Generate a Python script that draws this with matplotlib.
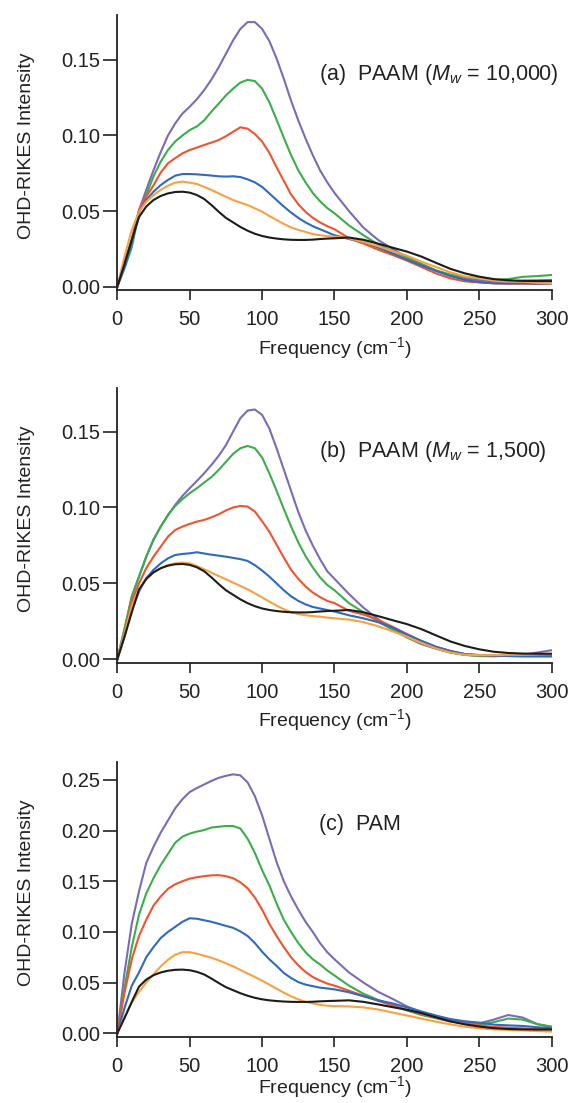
import matplotlib
matplotlib.use("Agg")
import matplotlib.pyplot as plt

plt.rcParams['font.family'] = ['Liberation Sans', 'DejaVu Sans']
plt.rcParams['mathtext.fontset'] = 'custom'
plt.rcParams['mathtext.rm'] = 'Liberation Sans'
plt.rcParams['mathtext.it'] = 'Liberation Sans:italic'
plt.rcParams['mathtext.bf'] = 'Liberation Sans:bold'

# frequency grid (cm-1)
freq = [0, 5, 10, 15, 20, 25, 30, 35, 40, 45, 50, 55, 60, 65, 70, 75, 80, 85, 90, 95,
        100, 105, 110, 115, 120, 125, 130, 135, 140, 145, 150, 160, 170, 180, 190, 200,
        210, 220, 230, 240, 250, 260, 270, 280, 290, 300]

# reference (black) trace, same in every panel
black = [0, 0.015, 0.031, 0.046, 0.053, 0.0573, 0.060, 0.0617, 0.0626, 0.0628, 0.0622, 0.0606,
         0.058, 0.054, 0.0496, 0.0455, 0.0425, 0.0395, 0.037, 0.035, 0.0335, 0.0325, 0.0318,
         0.0313, 0.031, 0.0309, 0.0309, 0.0311, 0.0315, 0.0318, 0.032, 0.0325, 0.031, 0.0285,
         0.0258, 0.0232, 0.0199, 0.0158, 0.0118, 0.0088, 0.0066, 0.005, 0.0042, 0.0038, 0.0037, 0.0037]

# (a) PAAM Mw 10,000
a_purple = [0, 0.016, 0.031, 0.0505, 0.064, 0.077, 0.089, 0.100, 0.108, 0.1145, 0.119, 0.124,
            0.130, 0.137, 0.145, 0.154, 0.163, 0.1705, 0.175, 0.175, 0.1705, 0.1625, 0.151,
            0.1375, 0.123, 0.110, 0.098, 0.087, 0.077, 0.069, 0.062, 0.050, 0.039, 0.031,
            0.025, 0.0195, 0.015, 0.0105, 0.0075, 0.0055, 0.0042, 0.0035, 0.0035, 0.004, 0.0042, 0.0045]
a_green = [0, 0.012, 0.026, 0.0485, 0.0606, 0.073, 0.0827, 0.0904, 0.096, 0.100, 0.1036, 0.106,
           0.110, 0.1158, 0.121, 0.1265, 0.131, 0.135, 0.1368, 0.136, 0.131, 0.122, 0.1105,
           0.0985, 0.087, 0.077, 0.069, 0.062, 0.0565, 0.052, 0.0485, 0.0405, 0.034, 0.028,
           0.0235, 0.0195, 0.015, 0.0108, 0.008, 0.0065, 0.0055, 0.0045, 0.005, 0.0065, 0.007, 0.0077]
a_red = [0, 0.014, 0.031, 0.0507, 0.0595, 0.067, 0.0755, 0.0816, 0.085, 0.0882, 0.0904, 0.092,
         0.0937, 0.0953, 0.097, 0.0995, 0.1025, 0.1054, 0.1045, 0.101, 0.096, 0.0885, 0.079,
         0.070, 0.061, 0.0545, 0.0495, 0.0455, 0.0425, 0.040, 0.038, 0.032, 0.0285, 0.0245,
         0.021, 0.0172, 0.013, 0.0088, 0.0055, 0.0035, 0.0028, 0.0022, 0.002, 0.002, 0.0018, 0.0018]
a_blue = [0, 0.013, 0.029, 0.0496, 0.0573, 0.0628, 0.0672, 0.0706, 0.0734, 0.0745, 0.0745, 0.0743,
          0.0739, 0.0735, 0.073, 0.0728, 0.073, 0.0725, 0.071, 0.069, 0.066, 0.0617, 0.0573,
          0.053, 0.049, 0.0455, 0.0425, 0.040, 0.038, 0.036, 0.034, 0.0315, 0.0295, 0.026,
          0.022, 0.018, 0.014, 0.0105, 0.007, 0.0045, 0.003, 0.0022, 0.002, 0.0022, 0.002, 0.002]
a_orange = [0, 0.020, 0.0375, 0.0496, 0.0562, 0.0606, 0.064, 0.0668, 0.0688, 0.0695, 0.0688, 0.0679,
            0.066, 0.064, 0.0617, 0.0595, 0.0573, 0.0556, 0.054, 0.0518, 0.0496, 0.0467, 0.0441,
            0.0415, 0.0392, 0.0375, 0.0362, 0.0348, 0.034, 0.0335, 0.033, 0.032, 0.0295, 0.0268,
            0.0235, 0.0205, 0.0165, 0.013, 0.0095, 0.0068, 0.0055, 0.004, 0.0035, 0.0033, 0.0025, 0.002]

# (b) PAAM Mw 1,500
b_purple = [0, 0.020, 0.0413, 0.0545, 0.0676, 0.0786, 0.0874, 0.095, 0.1017, 0.1076, 0.1127, 0.1175,
            0.1225, 0.128, 0.134, 0.141, 0.150, 0.1588, 0.1638, 0.1645, 0.161, 0.152, 0.139,
            0.125, 0.111, 0.097, 0.085, 0.075, 0.066, 0.058, 0.053, 0.043, 0.034, 0.0265,
            0.020, 0.0145, 0.010, 0.007, 0.0045, 0.003, 0.0022, 0.002, 0.0025, 0.003, 0.0045, 0.006]
b_green = [0, 0.020, 0.0413, 0.0545, 0.0676, 0.079, 0.0874, 0.095, 0.101, 0.1055, 0.1094, 0.1127,
           0.1164, 0.120, 0.1247, 0.130, 0.1353, 0.139, 0.1405, 0.139, 0.133, 0.1225, 0.111,
           0.099, 0.0875, 0.077, 0.068, 0.0605, 0.054, 0.049, 0.0455, 0.037, 0.031, 0.025,
           0.0195, 0.0145, 0.0105, 0.0072, 0.0045, 0.003, 0.0022, 0.0022, 0.0022, 0.0025, 0.0025, 0.0025]
b_red = [0, 0.017, 0.038, 0.050, 0.060, 0.0676, 0.0742, 0.0808, 0.0852, 0.0874, 0.0892, 0.0907,
         0.0918, 0.0935, 0.0955, 0.098, 0.100, 0.101, 0.1006, 0.0973, 0.091, 0.084, 0.0755,
         0.067, 0.059, 0.053, 0.048, 0.044, 0.041, 0.0385, 0.037, 0.032, 0.0295, 0.026,
         0.0215, 0.0167, 0.012, 0.0083, 0.0055, 0.0035, 0.0028, 0.0025, 0.0022, 0.002, 0.002, 0.002]
b_blue = [0, 0.015, 0.0325, 0.0446, 0.0534, 0.0589, 0.0632, 0.0665, 0.0687, 0.0694, 0.0698, 0.0705,
          0.0697, 0.0689, 0.0683, 0.0676, 0.0668, 0.066, 0.0648, 0.062, 0.0585, 0.0545, 0.050,
          0.0455, 0.0415, 0.0385, 0.0362, 0.0345, 0.0335, 0.0325, 0.0315, 0.029, 0.027, 0.0245,
          0.021, 0.0163, 0.0122, 0.0083, 0.0055, 0.0035, 0.0028, 0.0025, 0.0022, 0.002, 0.002, 0.002]
b_orange = [0, 0.017, 0.0347, 0.0457, 0.0527, 0.0571, 0.060, 0.0621, 0.0632, 0.0637, 0.0632, 0.0615,
            0.0593, 0.0571, 0.0549, 0.0527, 0.0505, 0.0483, 0.0461, 0.0435, 0.0408, 0.038, 0.0354,
            0.033, 0.031, 0.0299, 0.029, 0.0285, 0.0281, 0.0275, 0.027, 0.0262, 0.0245, 0.0218,
            0.0185, 0.0149, 0.0108, 0.0072, 0.0045, 0.003, 0.0028, 0.0028, 0.003, 0.003, 0.0032, 0.0035]

# (c) PAM
c_purple = [0, 0.060, 0.108, 0.140, 0.168, 0.184, 0.198, 0.210, 0.222, 0.231, 0.238, 0.242,
            0.2455, 0.249, 0.252, 0.254, 0.2555, 0.2545, 0.2475, 0.234, 0.215, 0.192, 0.169,
            0.150, 0.135, 0.122, 0.110, 0.100, 0.089, 0.080, 0.073, 0.060, 0.050, 0.041,
            0.034, 0.0265, 0.021, 0.017, 0.0135, 0.011, 0.0098, 0.0135, 0.018, 0.0155, 0.009, 0.006]
c_green = [0, 0.045, 0.085, 0.117, 0.138, 0.153, 0.166, 0.177, 0.188, 0.194, 0.197, 0.199,
           0.2005, 0.203, 0.2038, 0.2045, 0.2045, 0.202, 0.192, 0.178, 0.161, 0.146, 0.128,
           0.112, 0.100, 0.089, 0.080, 0.073, 0.068, 0.062, 0.057, 0.047, 0.039, 0.033,
           0.028, 0.0225, 0.018, 0.0148, 0.0115, 0.0095, 0.0082, 0.011, 0.0145, 0.0135, 0.009, 0.0066]
c_red = [0, 0.040, 0.073, 0.096, 0.112, 0.126, 0.135, 0.1425, 0.147, 0.150, 0.1525, 0.154,
         0.155, 0.1558, 0.156, 0.155, 0.153, 0.149, 0.143, 0.134, 0.122, 0.108, 0.096,
         0.085, 0.075, 0.067, 0.0605, 0.0555, 0.052, 0.049, 0.047, 0.042, 0.037, 0.032,
         0.0275, 0.023, 0.019, 0.0155, 0.012, 0.0095, 0.0078, 0.0062, 0.0055, 0.0048, 0.0042, 0.0039]
c_blue = [0, 0.025, 0.047, 0.060, 0.075, 0.085, 0.094, 0.100, 0.105, 0.110, 0.1135, 0.113,
          0.1115, 0.110, 0.108, 0.106, 0.104, 0.1005, 0.096, 0.089, 0.0805, 0.073, 0.0665,
          0.0595, 0.0545, 0.0505, 0.048, 0.0465, 0.045, 0.0442, 0.0433, 0.0405, 0.0365, 0.0325,
          0.0295, 0.0255, 0.0215, 0.0175, 0.014, 0.0118, 0.0105, 0.0085, 0.0078, 0.0072, 0.006, 0.0049]
c_orange = [0, 0.016, 0.030, 0.041, 0.050, 0.058, 0.066, 0.0725, 0.0775, 0.080, 0.080, 0.0785,
            0.0765, 0.0745, 0.072, 0.069, 0.066, 0.0625, 0.059, 0.0555, 0.052, 0.048, 0.044,
            0.040, 0.0365, 0.0335, 0.031, 0.0295, 0.028, 0.0272, 0.0268, 0.0265, 0.0255, 0.0235,
            0.0205, 0.0175, 0.0145, 0.0115, 0.0088, 0.0065, 0.0049, 0.0038, 0.0033, 0.0028, 0.0022, 0.0016]

colors = {'purple': '#7b6bb7', 'green': '#3cad4b', 'red': '#f0532e',
          'blue': '#2f69c2', 'orange': '#f9a040', 'black': '#1c1c1c'}

# label, traces, ylim, yticks, axes rect, label baseline (axes frac), xlabel pad
panels = [
    ("(a)  PAAM ($M_w$ = 10,000)", [a_purple, a_green, a_red, a_blue, a_orange, black],
     (-0.0022, 0.1797), [0.00, 0.05, 0.10, 0.15], [0.2054, 0.7371, 0.7608, 0.2493], 0.764, 4),
    ("(b)  PAAM ($M_w$ = 1,500)", [b_purple, b_green, b_red, b_blue, b_orange, black],
     (-0.0022, 0.1785), [0.00, 0.05, 0.10, 0.15], [0.2054, 0.3992, 0.7608, 0.2488], 0.749, 4),
    ("(c)  PAM", [c_purple, c_green, c_red, c_blue, c_orange, black],
     (-0.0034, 0.2676), [0.00, 0.05, 0.10, 0.15, 0.20, 0.25], [0.2054, 0.0601, 0.7608, 0.2490], 0.754, -1),
]

fig = plt.figure(figsize=(5.71, 11.03), dpi=100)

for label, series, ylim, yticks, pos, ty, xpad in panels:
    ax = fig.add_axes(pos)
    for vals, c in zip(series, ['purple', 'green', 'red', 'blue', 'orange', 'black']):
        ax.plot(freq, vals, color=colors[c], lw=1.5)
    ax.set_xlim(0, 300)
    ax.set_ylim(*ylim)
    ax.set_xticks([0, 50, 100, 150, 200, 250, 300])
    ax.set_yticks(yticks)
    ax.set_yticklabels([f"{t:.2f}" for t in yticks])
    for s in ['top', 'right']:
        ax.spines[s].set_visible(False)
    for s in ['left', 'bottom']:
        ax.spines[s].set_linewidth(1.3)
        ax.spines[s].set_color('#222222')
    ax.tick_params(axis='y', direction='out', length=10, width=1.2, pad=2, labelsize=14.5, colors='#222222')
    ax.tick_params(axis='x', direction='out', length=7.5, width=1.2, pad=7, labelsize=14.5, colors='#222222')
    ax.set_xlabel("Frequency (cm$^{-1}$)", fontsize=14, labelpad=xpad, color='#222222')
    ax.set_ylabel("OHD-RIKES Intensity", fontsize=14, color='#222222')
    ax.yaxis.set_label_coords(-0.19, 0.525)
    ax.text(0.464, ty, label, transform=ax.transAxes, fontsize=15.5, color='#222222', va='baseline')

fig.savefig("out.png", dpi=100)
